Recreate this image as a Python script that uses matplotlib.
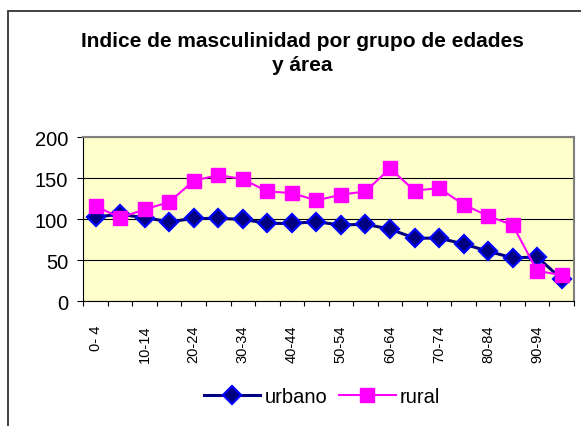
#!/usr/bin/env python3
"""
Indice de masculinidad por grupo de edades y área (urbano / rural).
Guarda la figura como 'out.png'.
"""

import matplotlib.pyplot as plt
from matplotlib.lines import Line2D
from matplotlib.patches import Rectangle
import numpy as np

# Datos
grupos = ['0- 4', '5- 9', '10-14', '15-19', '20-24', '25-29', '30-34', '35-39',
          '40-44', '45-49', '50-54', '55-59', '60-64', '65-69', '70-74', '75-79',
          '80-84', '85-89', '90-94', '95-99']
urbano = [103, 106, 102, 97, 101, 101, 100, 95, 95, 97, 93, 94, 88, 77, 77,
          70, 61, 53, 54, 27]
rural = [116, 102, 112, 121, 147, 154, 149, 134, 132, 123, 130, 134, 162, 135,
         138, 118, 104, 93, 37, 32]

plt.rcParams['font.family'] = ['Liberation Sans', 'DejaVu Sans']

W, H = 581, 427
fig = plt.figure(figsize=(W / 100, H / 100), dpi=100, facecolor='white')

# Marco exterior del gráfico (recortado a la derecha y abajo)
fig.patches.append(Rectangle((8 / W, -0.1), 1.2, (427 - 12) / H + 0.1,
                             transform=fig.transFigure, fill=False,
                             edgecolor='#333333', linewidth=1.3))

ax = fig.add_axes([83.3 / W, 1 - 302.3 / H, (574 - 83.3) / W, (302.3 - 138.3) / H])
ax.set_facecolor('#FFFFCC')

estilo_urb = dict(color='#000080', linewidth=2.2, marker='D', markersize=9,
                  markerfacecolor='#000080', markeredgecolor='#0000FF',
                  markeredgewidth=1.6)
estilo_rur = dict(color='#FF00FF', linewidth=1.5, marker='s', markersize=10.5,
                  markerfacecolor='#FF00FF', markeredgecolor='#FF00FF')

x = np.arange(len(grupos))
ax.plot(x, urbano, label='urbano', zorder=3, **estilo_urb)
ax.plot(x, rural, label='rural', zorder=3, **estilo_rur)

ax.set_xlim(-0.5, len(grupos) - 0.5)
ax.set_ylim(0, 200)
ax.set_yticks([0, 50, 100, 150, 200])
ax.yaxis.grid(True, color='black', linewidth=0.8)
ax.set_axisbelow(True)
ax.tick_params(axis='y', labelsize=14.5, direction='out', length=4.3, pad=6.5)

# Ticks en los bordes de las categorías, etiquetas (cada segunda) en el centro
ax.set_xticks(np.arange(-0.5, len(grupos), 1))
ax.set_xticklabels([])
ax.tick_params(axis='x', which='major', direction='out', length=3.5)
ax.set_xticks(x[::2], minor=True)
ax.set_xticklabels(grupos[::2], minor=True, rotation=90, fontsize=10.5)
ax.tick_params(axis='x', which='minor', length=0, pad=17)

for side in ['top', 'right']:
    ax.spines[side].set_color('#808080')
    ax.spines[side].set_linewidth(1.5)
ax.spines['left'].set_color('black')
ax.spines['bottom'].set_color('black')

fig.text(302 / W, 1 - 46.7 / H, 'Indice de masculinidad por grupo de edades',
         ha='center', va='baseline', fontsize=15, fontweight='bold')
fig.text(302 / W, 1 - 70.7 / H, 'y área', ha='center', va='baseline',
         fontsize=15, fontweight='bold')

handles = [Line2D([], [], **estilo_urb), Line2D([], [], **estilo_rur)]
fig.legend(handles, ['urbano', 'rural'], loc='center', ncol=2,
           bbox_to_anchor=(322 / W, 1 - 398 / H), frameon=False, fontsize=14.5,
           handlelength=2.8, handletextpad=0.2, columnspacing=0.6)

fig.savefig('out.png', dpi=100, facecolor='white')
